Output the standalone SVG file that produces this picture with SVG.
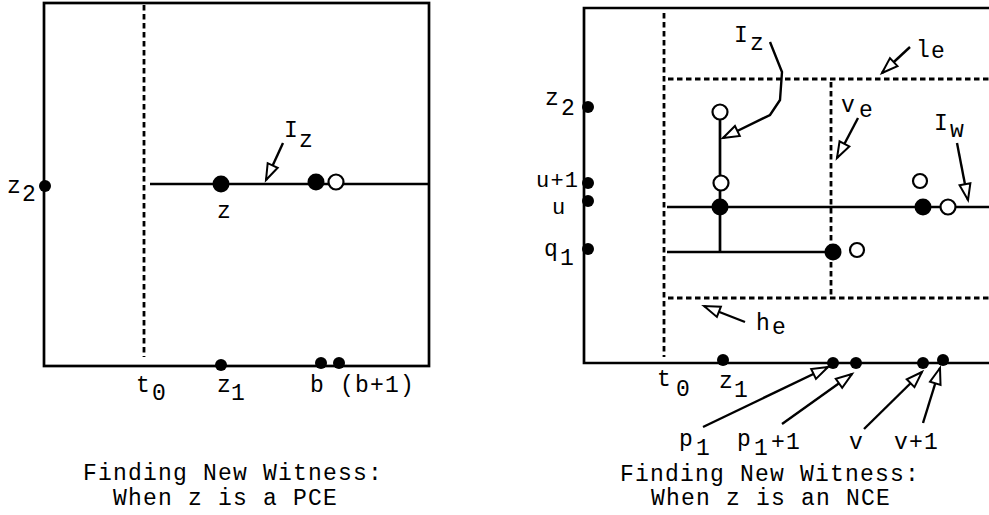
<svg xmlns="http://www.w3.org/2000/svg" width="989" height="515" viewBox="0 0 989 515">
<defs>
<marker id="oa" markerUnits="userSpaceOnUse" markerWidth="24" markerHeight="16" viewBox="-20 -8 24 16" refX="0" refY="0" orient="auto">
<path d="M0,0 L-16,-5.5 L-16,5.5 Z" fill="#fff" stroke="#000" stroke-width="2" stroke-linejoin="miter"/>
</marker>
</defs>
<style>
.ln{fill:none;stroke:#000;stroke-width:2.7}
.ds{fill:none;stroke:#000;stroke-width:2.8;stroke-dasharray:5.5 3.5}
.ar{fill:none;stroke:#000;stroke-width:2.4;marker-end:url(#oa)}
.f{fill:#000}
.o{fill:#fff;stroke:#000;stroke-width:2.2}
text{font-family:"Liberation Mono","Courier New",monospace;font-size:23px;letter-spacing:1.2px;fill:#000}
.s{font-size:22px}
</style>
<rect width="989" height="515" fill="#fff"/>

<g id="left-panel">
<rect class="ln" x="44" y="3" width="385" height="363"/>
<line class="ds" x1="144" y1="5" x2="144" y2="357"/>
<line class="ln" x1="150" y1="184" x2="429" y2="184"/>
</g>
<g id="left-nodes">
<circle class="f" cx="45" cy="186" r="6"/>
<circle class="f" cx="221" cy="184" r="8.5"/>
<circle class="f" cx="316" cy="182" r="8.5"/>
<circle class="o" cx="336" cy="182" r="7.5"/>
<circle class="f" cx="221" cy="365" r="6"/>
<circle class="f" cx="321" cy="363" r="6"/>
<circle class="f" cx="339" cy="363" r="6"/>
</g>
<g id="left-labels">
<text x="7" y="193">z<tspan x="22" y="201">2</tspan></text>
<text x="217" y="218">z</text>
<text x="284" y="137">I<tspan x="299" y="147">z</tspan></text>
<text x="136" y="392">t<tspan x="152" y="400">0</tspan></text>
<text x="217" y="392">z<tspan x="231" y="400">1</tspan></text>
<text x="310" y="392">b (b+1)</text>
<text x="83" y="480">Finding New Witness:</text>
<text x="113" y="505">When z is a PCE</text>
</g>

<g id="right-panel">
<polyline class="ln" points="989,8 584,8 584,363 989,363"/>
<line class="ds" x1="664" y1="13" x2="664" y2="357"/>
<line class="ds" x1="668" y1="79" x2="989" y2="79"/>
<line class="ds" x1="668" y1="298" x2="989" y2="298"/>
<line class="ds" x1="831" y1="82" x2="831" y2="298"/>
<line class="ln" x1="720" y1="112" x2="720" y2="252"/>
<line class="ln" x1="667" y1="207" x2="989" y2="207"/>
<line class="ln" x1="667" y1="252" x2="833" y2="252"/>
</g>
<g id="right-nodes">
<circle class="f" cx="588" cy="107" r="6"/>
<circle class="f" cx="588" cy="183" r="6"/>
<circle class="f" cx="588" cy="201" r="6"/>
<circle class="f" cx="588" cy="249" r="6"/>
<circle class="o" cx="720" cy="112" r="7.5"/>
<circle class="o" cx="721" cy="183" r="7.5"/>
<circle class="f" cx="720" cy="207" r="8.5"/>
<circle class="o" cx="920" cy="181" r="7"/>
<circle class="f" cx="923" cy="207" r="8.5"/>
<circle class="o" cx="948" cy="207" r="7.5"/>
<circle class="f" cx="833" cy="252" r="8.5"/>
<circle class="o" cx="857" cy="250" r="7"/>
<circle class="f" cx="723" cy="360" r="6"/>
<circle class="f" cx="833" cy="363" r="6"/>
<circle class="f" cx="856" cy="363" r="6"/>
<circle class="f" cx="923" cy="363" r="6"/>
<circle class="f" cx="943" cy="360" r="6"/>
</g>
<g id="right-labels">
<text x="545" y="105">z<tspan x="561" y="115">2</tspan></text>
<text class="s" x="536" y="187">u+1</text>
<text class="s" x="552" y="214">u</text>
<text x="544" y="256">q<tspan x="560" y="265">1</tspan></text>
<text x="734" y="42">I<tspan x="750" y="50">z</tspan></text>
<text x="916" y="57">l<tspan x="931" y="58">e</tspan></text>
<text x="841" y="112">v<tspan x="859" y="117">e</tspan></text>
<text x="934" y="130">I<tspan x="950" y="137">w</tspan></text>
<text x="756" y="330">h<tspan x="772" y="334">e</tspan></text>
<text x="657" y="386">t<tspan x="676" y="396">0</tspan></text>
<text x="719" y="388">z<tspan x="734" y="397">1</tspan></text>
<text x="679" y="446">p<tspan x="696" y="455">1</tspan></text>
<text x="737" y="446">p<tspan x="754" y="455">1</tspan><tspan x="771" y="449">+1</tspan></text>
<text x="849" y="449">v</text>
<text x="894" y="449">v+1</text>
<text x="620" y="481">Finding New Witness:</text>
<text x="651" y="505">When z is an NCE</text>
</g>

<g id="connectors">
<line class="ar" x1="283" y1="143" x2="266" y2="180"/>
<polyline class="ar" points="770,42 782,72 780,100 770,115 723,138"/>
<line class="ar" x1="910" y1="47" x2="882" y2="73"/>
<line class="ar" x1="858" y1="118" x2="837" y2="158"/>
<line class="ar" x1="957" y1="143" x2="968" y2="200"/>
<line class="ar" x1="745" y1="322" x2="704" y2="306"/>
<line class="ar" x1="703" y1="427" x2="828" y2="367"/>
<line class="ar" x1="782" y1="424" x2="852" y2="374"/>
<line class="ar" x1="864" y1="429" x2="922" y2="372"/>
<line class="ar" x1="923" y1="423" x2="940" y2="368"/>
</g>
</svg>
